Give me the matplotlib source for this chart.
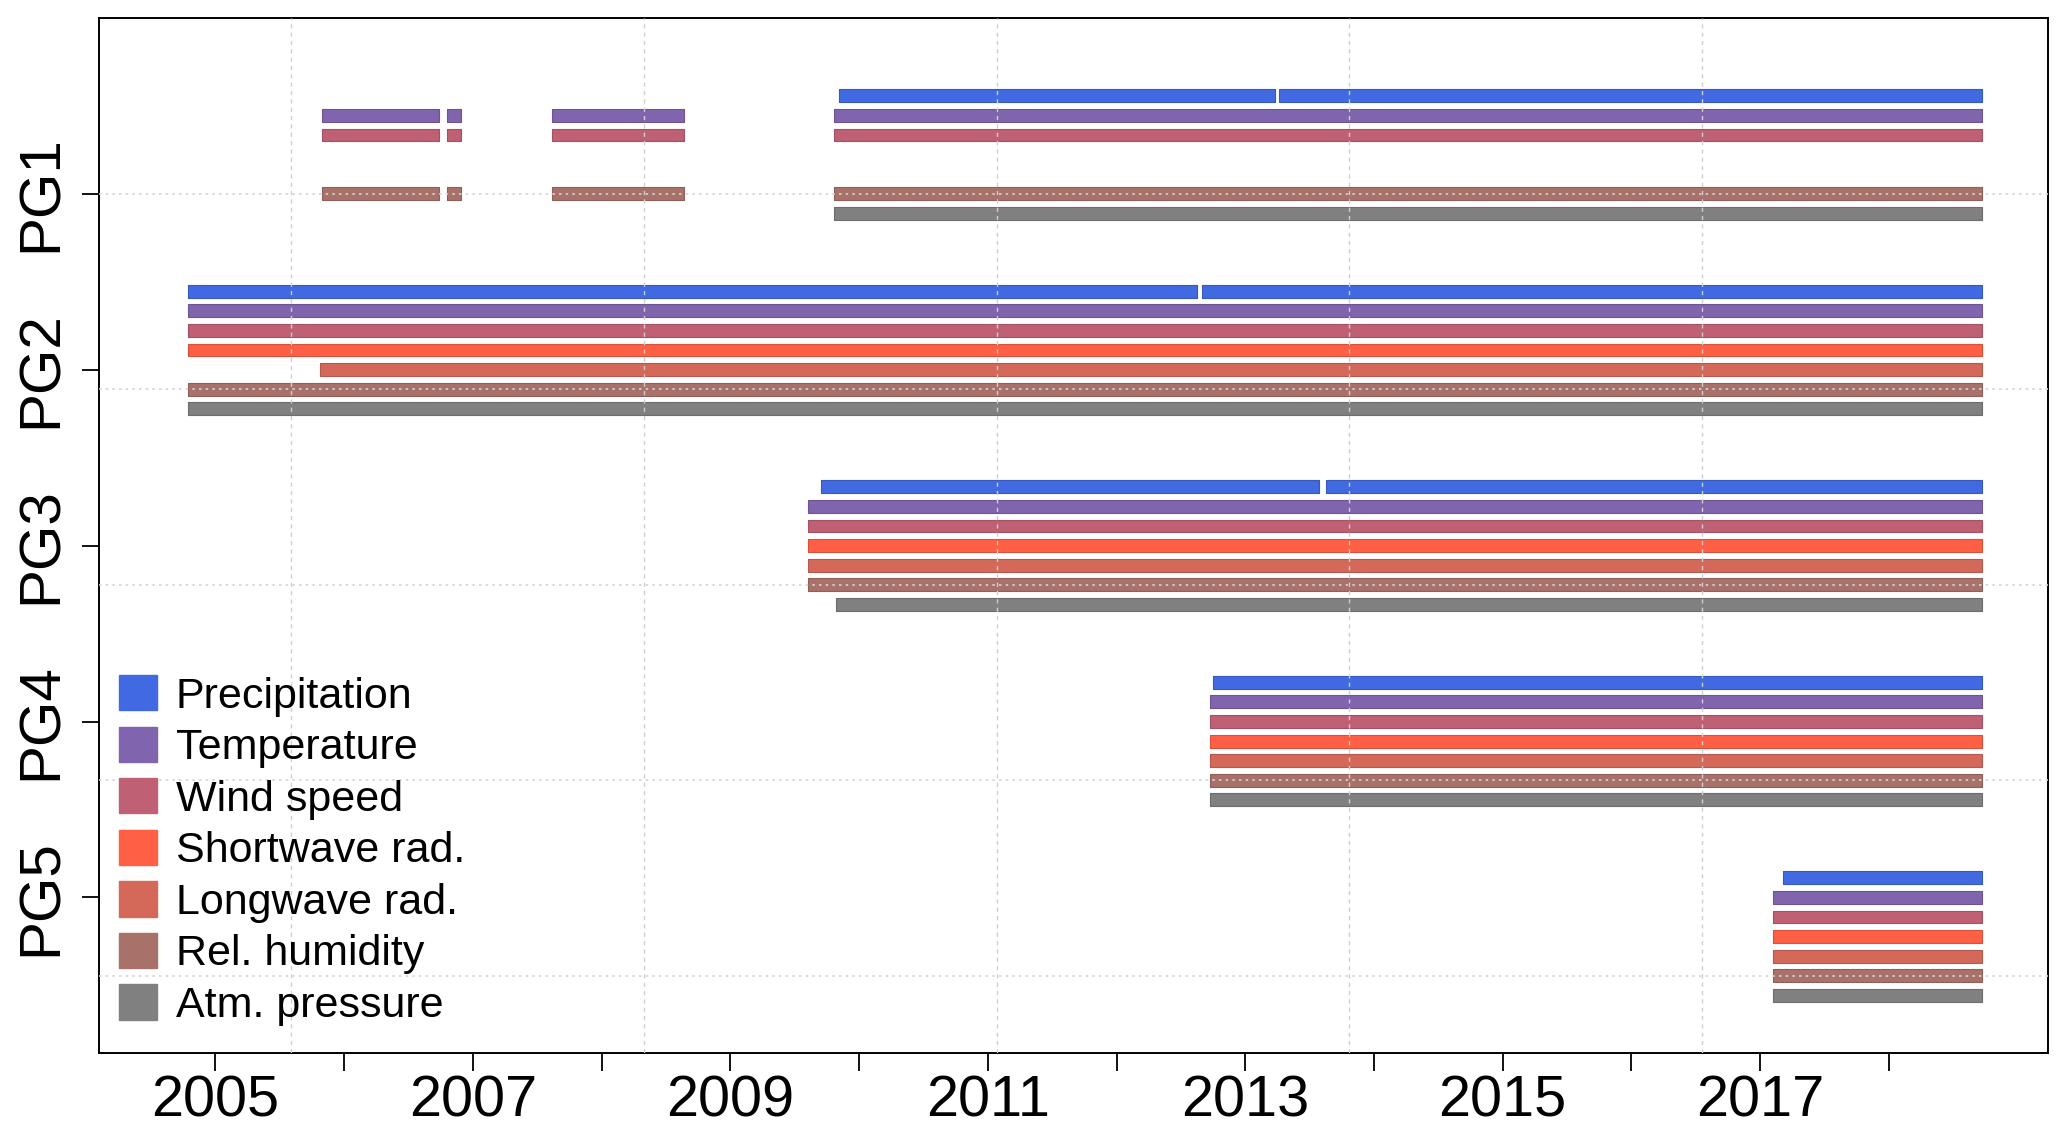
import matplotlib
matplotlib.use("Agg")
import matplotlib.pyplot as plt
from matplotlib.patches import Patch
from matplotlib.colors import to_rgb

plt.rcParams['font.family'] = ['Liberation Sans', 'DejaVu Sans']

# ---------------- data ----------------
groups = ["PG1", "PG2", "PG3", "PG4", "PG5"]
variables = ["Precipitation", "Temperature", "Wind speed", "Shortwave rad.",
             "Longwave rad.", "Rel. humidity", "Atm. pressure"]
colors = ["#4169E1", "#8064AD", "#BF6074", "#FF5F45", "#D4695A", "#A8716A", "#808080"]

END = 2018.72

# availability periods (start, end) in decimal years, per group, per variable
pg1 = [
    [(2009.846, 2013.233), (2013.265, END)],
    [(2005.83, 2006.74), (2006.80, 2006.91), (2007.615, 2008.64), (2009.802, END)],
    [(2005.83, 2006.74), (2006.80, 2006.91), (2007.615, 2008.64), (2009.802, END)],
    [],
    [],
    [(2005.83, 2006.74), (2006.80, 2006.91), (2007.615, 2008.64), (2009.802, END)],
    [(2009.802, END)],
]
pg2 = [
    [(2004.79, 2012.625), (2012.667, END)],
    [(2004.79, END)],
    [(2004.79, END)],
    [(2004.79, END)],
    [(2005.81, END)],
    [(2004.79, END)],
    [(2004.79, END)],
]
pg3 = [
    [(2009.705, 2013.571), (2013.624, END)],
    [(2009.606, END)],
    [(2009.606, END)],
    [(2009.606, END)],
    [(2009.606, END)],
    [(2009.606, END)],
    [(2009.819, END)],
]
pg4 = [
    [(2012.752, END)],
    [(2012.730, END)],
    [(2012.730, END)],
    [(2012.730, END)],
    [(2012.730, END)],
    [(2012.730, END)],
    [(2012.730, END)],
]
pg5 = [
    [(2017.173, END)],
    [(2017.096, END)],
    [(2017.096, END)],
    [(2017.096, END)],
    [(2017.096, END)],
    [(2017.096, END)],
    [(2017.096, END)],
]
periods = [pg1, pg2, pg3, pg4, pg5]

year_ticks = list(range(2005, 2019))
year_labels = [str(y) if y % 2 == 1 else "" for y in year_ticks]
vgrid = [2005.589, 2008.329, 2011.068, 2013.808, 2016.547]

# ---------------- layout ----------------
GROUP_STEP = 10      # rows per group block
TICK_STEP = 9        # spacing of group tick labels
REF_ROW = 5
BAR_H = 0.66

fig = plt.figure(figsize=(20.67, 11.34), dpi=100)
ax = fig.add_axes([0.0481, 0.0717, 0.9427, 0.9122])

for g, grp in enumerate(periods):
    for v, segs in enumerate(grp):
        if not segs:
            continue
        y = g * GROUP_STEP + v
        c = colors[v]
        edge = tuple(max(0, ch * 0.85) for ch in to_rgb(c))
        ax.broken_barh([(s, e - s) for s, e in segs], (y - BAR_H / 2, BAR_H),
                       facecolors=c, edgecolors=edge, linewidth=0.8, zorder=2)

# grid lines (drawn over bars)
for x in vgrid:
    ax.axvline(x, color="#cfcfcf", lw=1.0, ls=(0, (3, 3)), zorder=3)
for g in range(len(groups)):
    ax.axhline(g * GROUP_STEP + REF_ROW, color="#d3d3d3", lw=1.2, ls=(0, (1.5, 2.5)), zorder=3)

ax.set_xlim(2004.10, 2019.235)
ax.set_ylim(48.94, -3.97)

ax.set_xticks(year_ticks)
ax.set_xticklabels(year_labels)
ax.set_yticks([REF_ROW + TICK_STEP * g for g in range(len(groups))])
ax.set_yticklabels(groups, rotation=90, va="center")

ax.tick_params(axis="x", length=13, width=1.3, pad=3, labelsize=41.5, direction="out")
ax.tick_params(axis="y", length=12, width=1.3, pad=10, labelsize=42, direction="out")
for sp in ax.spines.values():
    sp.set_linewidth(1.4)

handles = [Patch(facecolor=c, edgecolor=c, label=l) for c, l in zip(colors, variables)]
ax.legend(handles=handles, loc="upper left", bbox_to_anchor=(0.0102, 0.365),
          frameon=False, fontsize=31, handlelength=0.883, handleheight=0.883,
          handletextpad=0.43, labelspacing=0.233, borderpad=0, borderaxespad=0)

fig.savefig("out.png", dpi=100)
